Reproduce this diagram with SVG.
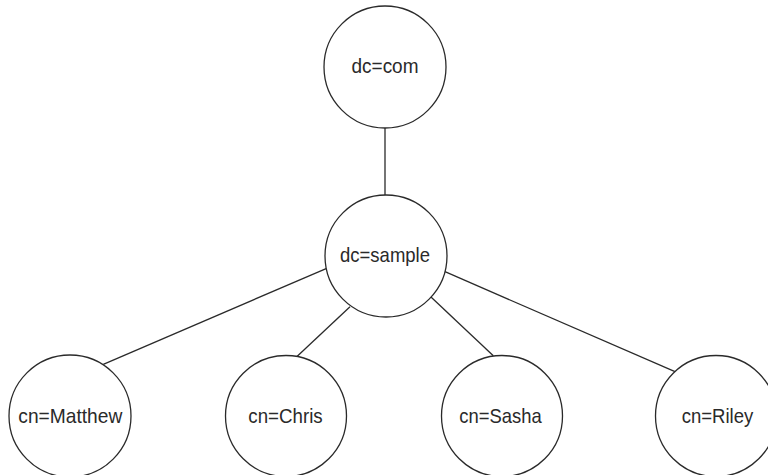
<svg xmlns="http://www.w3.org/2000/svg" width="768" height="475" viewBox="0 0 768 475">
<style>
.node{fill:#fff;stroke:#2a2a2a;stroke-width:1.3}
.edge{stroke:#2a2a2a;stroke-width:1.3;fill:none}
.lbl{font-family:"Liberation Sans Narrow","Liberation Sans",Arial,sans-serif;font-size:21px;fill:#2a2a2a;text-anchor:middle}
</style>
<rect width="768" height="475" fill="#fff"/>
<g id="connectors">
<line class="edge" x1="385" y1="128" x2="385" y2="195"/>
<line class="edge" x1="326.7" y1="268.3" x2="103.3" y2="364.3"/>
<line class="edge" x1="350" y1="306.7" x2="296.7" y2="356.7"/>
<line class="edge" x1="430.7" y1="296.7" x2="493.3" y2="355.7"/>
<line class="edge" x1="445" y1="271.7" x2="675" y2="371.7"/>
</g>
<g id="dc_com"><circle class="node" cx="385" cy="67" r="61"/><text class="lbl" x="385" y="73" textLength="67" lengthAdjust="spacingAndGlyphs">dc=com</text></g>
<g id="dc_sample"><circle class="node" cx="386" cy="256" r="61"/><text class="lbl" x="385" y="262" textLength="90" lengthAdjust="spacingAndGlyphs">dc=sample</text></g>
<g id="cn_matthew"><circle class="node" cx="70" cy="416" r="61"/><text class="lbl" x="70.3" y="422.5" textLength="104" lengthAdjust="spacingAndGlyphs">cn=Matthew</text></g>
<g id="cn_chris"><circle class="node" cx="286" cy="416" r="60.5"/><text class="lbl" x="285.5" y="422.5" textLength="74.4" lengthAdjust="spacingAndGlyphs">cn=Chris</text></g>
<g id="cn_sasha"><circle class="node" cx="502" cy="416" r="60.5"/><text class="lbl" x="500.5" y="422.5" textLength="82.4" lengthAdjust="spacingAndGlyphs">cn=Sasha</text></g>
<g id="cn_riley"><circle class="node" cx="716" cy="416" r="60.5"/><text class="lbl" x="717.5" y="422.5" textLength="71.6" lengthAdjust="spacingAndGlyphs">cn=Riley</text></g>
</svg>
